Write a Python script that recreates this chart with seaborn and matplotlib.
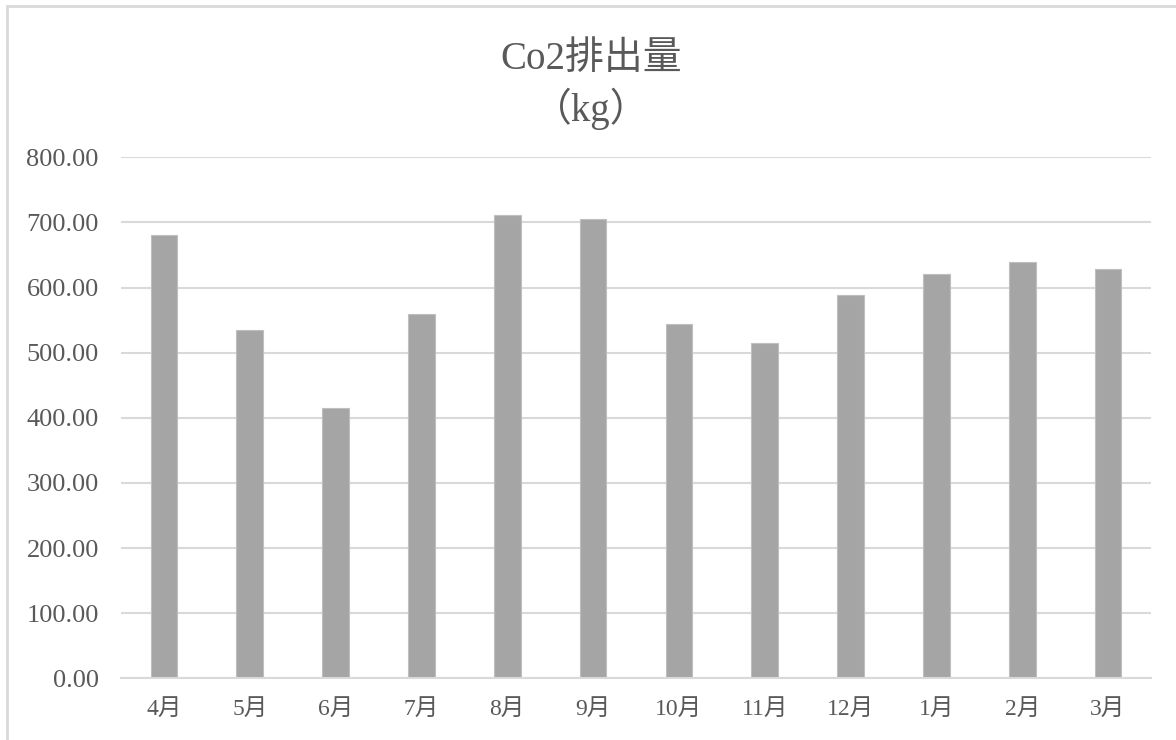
import matplotlib.pyplot as plt
import matplotlib.ticker as mticker
from matplotlib.patches import Rectangle
import pandas as pd
import seaborn as sns

# data
months = ['4月', '5月', '6月', '7月', '8月', '9月', '10月', '11月', '12月', '1月', '2月', '3月']
co2_kg = [681, 535, 415, 559, 711, 706, 544, 515, 588, 621, 639, 629]
y_ticks = [0, 100, 200, 300, 400, 500, 600, 700, 800]

df = pd.DataFrame({'month': months, 'co2': co2_kg})

sns.set_style('white')
plt.rcParams['font.family'] = ['Liberation Serif', 'Noto Sans CJK JP', 'DejaVu Sans']

text_color = '#595959'
grid_color = '#D9D9D9'

fig = plt.figure(figsize=(11.76, 7.4), dpi=100)
ax = fig.add_axes([0.1029, 0.0834, 0.8758, 0.704])

sns.barplot(data=df, x='month', y='co2', order=months, color='#A5A5A5',
            saturation=1, width=0.31, edgecolor='#BFBFBF', linewidth=0.8, ax=ax)

ax.set_ylim(0, 800)
ax.set_yticks(y_ticks)
ax.yaxis.set_major_formatter(mticker.FormatStrFormatter('%.2f'))
ax.grid(axis='y', color=grid_color, linewidth=1.5)
ax.set_axisbelow(True)
for side in ['top', 'right', 'left']:
    ax.spines[side].set_visible(False)
ax.spines['bottom'].set_color(grid_color)
ax.spines['bottom'].set_linewidth(1.5)
ax.tick_params(axis='both', length=0, labelcolor=text_color)
ax.tick_params(axis='y', pad=16, labelsize=19)
ax.tick_params(axis='x', pad=15, labelsize=17)
ax.set_xlabel('')
ax.set_ylabel('')

fig.text(0.503, 0.92, 'Co2排出量', ha='center', va='center', fontsize=28, color=text_color)
fig.text(0.503, 0.853, '（kg）', ha='center', va='center', fontsize=28, color=text_color)

# chart area frame (only left and top edges fall inside the image)
fig.patches.append(Rectangle((7 / 1176, -0.1), 1.2, 1.1 - 6 / 740, transform=fig.transFigure,
                             fill=False, edgecolor=grid_color, linewidth=2))

fig.savefig('out.png', dpi=100)
